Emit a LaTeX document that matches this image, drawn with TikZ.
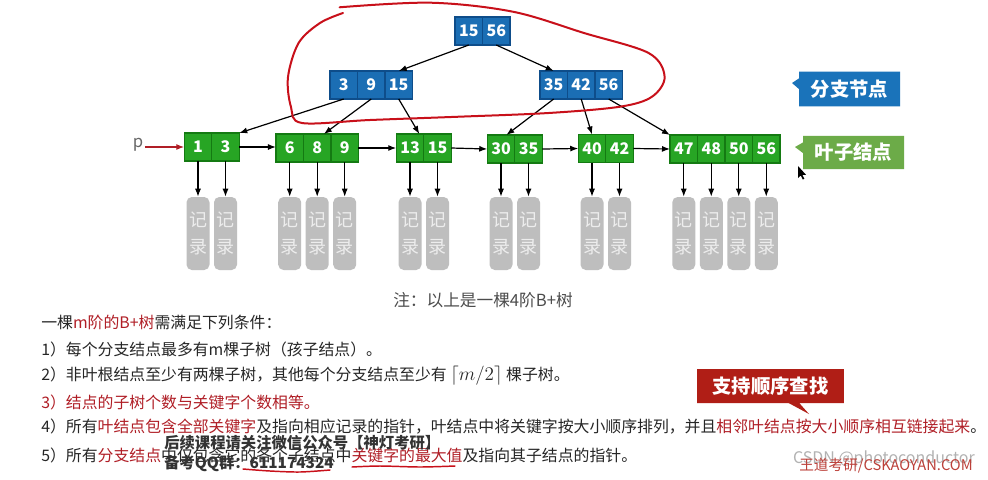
\documentclass[tikz,border=0pt]{standalone}
\usepackage{fontspec}
\setmainfont{Noto Sans CJK SC}
\usetikzlibrary{shapes.callouts,arrows.meta}
\definecolor{bfill}{HTML}{1B6EB4}
\definecolor{bdraw}{HTML}{0E4D8A}
\definecolor{gfill}{HTML}{27A524}
\definecolor{gdraw}{HTML}{147A12}
\definecolor{recg}{HTML}{BEBEBE}
\definecolor{recw}{HTML}{EDEDED}
\definecolor{kred}{HTML}{B01E26}
\definecolor{lblue}{HTML}{1A73BA}
\definecolor{lgreen}{HTML}{6CAB48}
\definecolor{cred}{HTML}{B01E16}
\definecolor{loopred}{HTML}{C8101A}
\begin{document}
\begin{tikzpicture}[x=0.75pt,y=-0.75pt,
  cell/.style={minimum width=20.625pt, minimum height=21pt, inner sep=0pt, outer sep=0pt, text=white, font=\bfseries\fontsize{12}{12}\selectfont, line width=0.9pt},
  bcell/.style={cell, fill=bfill, draw=bdraw},
  gcell/.style={cell, fill=gfill, draw=gdraw},
  rec/.style={fill=recg, rounded corners=4pt, minimum width=17.25pt, minimum height=54.75pt, inner sep=0pt, text=recw, align=center, font=\fontsize{13.5}{20}\selectfont},
  arr/.style={-{Latex[length=6pt,width=4.5pt]}, line width=0.9pt, black},
  txt/.style={anchor=west, inner sep=0pt, font=\fontsize{11.9}{12}\selectfont, text=black!85},
  lab/.style={rectangle callout, text=white, inner sep=0pt, font=\bfseries\fontsize{14.5}{15}\selectfont, callout pointer width=8pt},
  underl/.style={draw=loopred, line width=1.1pt, line cap=round}
]
\useasboundingbox (0,0) rectangle (988,479);
\fill[white] (0,0) rectangle (988,479);

% root
\node[bcell] (r1) at (468.75,31) {15};
\node[bcell,anchor=west] (r2) at (r1.east) {56};
% internal
\node[bcell] (i1a) at (343.7,85) {3};
\node[bcell,anchor=west] (i1b) at (i1a.east) {9};
\node[bcell,anchor=west] (i1c) at (i1b.east) {15};
\node[bcell] (j1a) at (553.7,85) {35};
\node[bcell,anchor=west] (j1b) at (j1a.east) {42};
\node[bcell,anchor=west] (j1c) at (j1b.east) {56};
% leaves
\node[gcell] (l1a) at (198,147) {1};
\node[gcell,anchor=west] (l1b) at (l1a.east) {3};
\node[gcell] (l2a) at (289.7,148) {6};
\node[gcell,anchor=west] (l2b) at (l2a.east) {8};
\node[gcell,anchor=west] (l2c) at (l2b.east) {9};
\node[gcell] (l3a) at (410,148) {13};
\node[gcell,anchor=west] (l3b) at (l3a.east) {15};
\node[gcell] (l4a) at (501,149) {30};
\node[gcell,anchor=west] (l4b) at (l4a.east) {35};
\node[gcell] (l5a) at (592,148.5) {40};
\node[gcell,anchor=west] (l5b) at (l5a.east) {42};
\node[gcell] (l6a) at (683.75,149) {47};
\node[gcell,anchor=west] (l6b) at (l6a.east) {48};
\node[gcell,anchor=west] (l6c) at (l6b.east) {50};
\node[gcell,anchor=west] (l6d) at (l6c.east) {56};

% tree edges
\draw[arr] (r1.south) -- (i1c.north);
\draw[arr] (r2.south) -- (j1a.north);
\draw[arr] (i1a.south) -- (l1b.north east);
\draw[arr] (i1b.south) -- ([xshift=5pt]l2b.north);
\draw[arr] (i1c.south) -- ([xshift=7pt]l3a.north);
\draw[arr] (j1a.south) -- ([xshift=4pt]l4a.north);
\draw[arr] (j1b.south) -- (l5a.north);
\draw[arr] (j1c.south) -- (l6a.north west);

% leaf links
\draw[arr] (l1b.east) -- (l2a.west |- l1b.east);
\draw[arr] (l2c.east) -- (l3a.west);
\draw[arr] (l3b.east) -- (l4a.west);
\draw[arr] (l4b.east) -- (l5a.west);
\draw[arr] (l5b.east) -- (l6a.west);

% p pointer
\node[text=black!60, font=\fontsize{12.5}{12}\selectfont, inner sep=1pt] (p) at (138,145) {p};
\draw[-{Latex[length=6pt,width=4.5pt]}, line width=0.9pt, kred] (p.east |- l1a.west) -- (l1a.west);

% records
\foreach \c in {l1a,l1b,l2a,l2b,l2c,l3a,l3b,l4a,l4b,l5a,l5b,l6a,l6b,l6c,l6d}{
  \node[rec] (k\c) at (\c.center |- 0,233.5) {记\\录};
  \draw[arr] (\c.south) -- (k\c.north);
}

% callouts
\node[lab, fill=lblue, minimum width=75.75pt, minimum height=26pt, callout absolute pointer={(792,83)}] (lab1) at (849.5,89) {分支节点};
\node[lab, fill=lgreen, minimum width=75.75pt, minimum height=25pt, callout absolute pointer={(795,147)}] (lab2) at (853.5,152.5) {叶子结点};
\node[lab, fill=cred, minimum width=110pt, minimum height=25.5pt, callout absolute pointer={(809,414)}] (lab3) at (770.5,386) {支持顺序查找};

% cursor
\fill[black] (798,166) -- (798,178) -- (800.8,175.5) -- (802.8,179.5) -- (804.3,178.8) -- (802.4,174.8) -- (806,174.8) -- cycle;

% red loop
\draw[loopred, line width=1.5pt, line cap=round] plot[smooth, tension=0.55] coordinates {(339.6,7.3) (430.7,2.7) (512.9,11.7) (584,33) (648.6,53) (664.6,76.7) (652,96.7) (620,106.7) (548.6,113) (459,116.7) (370,120) (302,123) (291,107) (288,77) (298.6,43) (320,23) (343,13)};

% note
\node[font=\fontsize{12.5}{13}\selectfont, text=black!70, inner sep=0pt] (note) at (483,300) {注：以上是一棵4阶B+树};

% conditions
\node[txt] (t0) at (41,322) {一棵\textcolor{kred}{m阶的B+树}需满足下列条件：};
\node[txt] (t1) at (41,349) {1）每个分支结点最多有m棵子树（孩子结点）。};
\node[txt] (t2) at (41,376) {2）非叶根结点至少有两棵子树，其他每个分支结点至少有 {\fontsize{14.5}{15}\selectfont$\lceil m/2\rceil$} 棵子树。};
\node[txt, text=kred] (t3) at (41,402) {3）结点的子树个数与关键字个数相等。};
\node[txt] (t4) at (41,427) {4）所有\textcolor{kred}{叶结点包含全部关键字}及指向相应记录的指针，叶结点中将关键字按大小顺序排列，并且\textcolor{kred}{相邻叶结点按大小顺序相互链接起来}。};
\node[txt] (t5) at (41,455) {5）所有\textcolor{kred}{分支结点}中仅包含它的各个子结点中\textcolor{kred}{关键字的最大值}及指向其子结点的指针。};

% overlay watermark
\node[anchor=west, inner sep=0pt, font=\bfseries\fontsize{11.5}{12}\selectfont, text=black!80] (w1) at (164,443) {后续课程请关注微信公众号【神灯考研】};
\node[anchor=west, inner sep=0pt, font=\bfseries\fontsize{11.5}{12}\selectfont, text=black!80] (w2) at (164,463) {备考QQ群：611174324};
\draw[underl] plot[smooth] coordinates {(243,469) (270,471) (300,472) (330,470)};
\draw[underl] plot[smooth] coordinates {(352,467) (380,466) (420,467) (455,466)};

% corner marks
\node[anchor=east, inner sep=0pt, font=\fontsize{12}{12}\selectfont, text=black!30] (cs) at (975,459) {CSDN @photoconductor};
\node[anchor=east, inner sep=0pt, font=\fontsize{11}{12}\selectfont, text=cred!85] (wd) at (973,466) {王道考研/CSKAOYAN.COM};
\end{tikzpicture}
\end{document}
